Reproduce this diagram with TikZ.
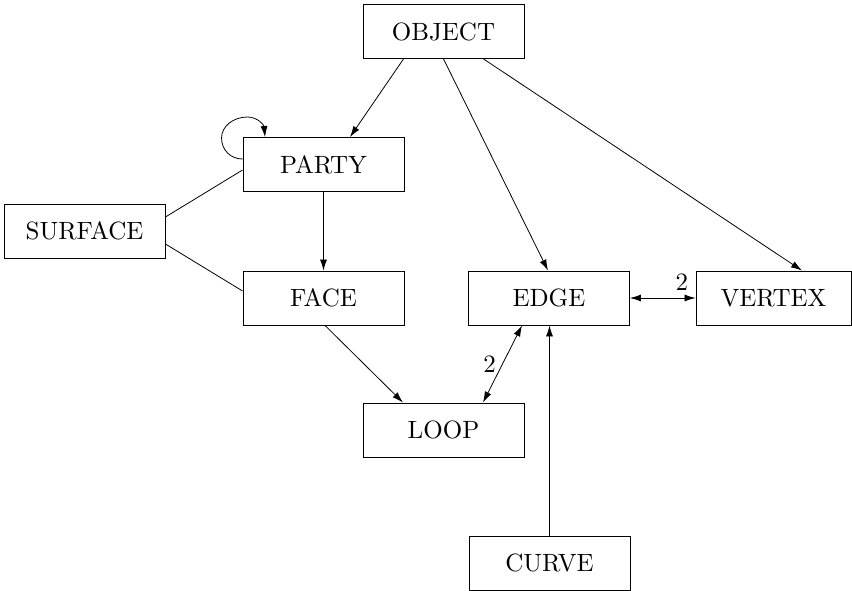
\documentclass[tikz,border=0pt]{standalone}
\usepackage{graphicx}
\usetikzlibrary{arrows.meta}
\newcommand{\lbl}[1]{\scalebox{2.5}{#1}}
\begin{document}
\begin{tikzpicture}[x=1pt,y=1pt,
  box/.style={draw, minimum width=161pt, minimum height=54pt, inner sep=0pt, line width=0.9pt},
  conn/.style={line width=0.8pt},
  arr/.style={conn, -{Latex[length=11pt,width=7pt]}},
  darr/.style={conn, {Latex[length=11pt,width=7pt]}-{Latex[length=11pt,width=7pt]}}]
\useasboundingbox (0,0) rectangle (852,-591);
\node[box] (object)  at (443.5,-31.5) {\lbl{OBJECT}};
\node[box] (party)   at (323.5,-164.5) {\lbl{PARTY}};
\node[box] (surface) at (84.5,-231) {\lbl{SURFACE}};
\node[box] (face)    at (323.5,-298) {\lbl{FACE}};
\node[box] (edge)    at (549,-298) {\lbl{EDGE}};
\node[box, minimum width=155pt] (vertex) at (773.5,-298) {\lbl{VERTEX}};
\node[box] (loop)    at (443.5,-430) {\lbl{LOOP}};
\node[box] (curve)   at (549.5,-563) {\lbl{CURVE}};

\draw[arr] ([xshift=-40pt]object.south) -- ([xshift=26.5pt]party.north);
\draw[arr] (object.south) -- ([xshift=-1pt]edge.north);
\draw[arr] ([xshift=40pt]object.south) -- ([xshift=28.5pt]vertex.north);
\draw[arr] (party.south) -- (face.north);
\draw[arr] ([xshift=1.5pt]face.south) -- ([xshift=-40.5pt]loop.north);
\draw[darr] ([xshift=-27pt]edge.south) -- ([xshift=39.5pt]loop.north)
  node[midway, left=3pt] {\lbl{2}};
\draw[darr] (edge.east) -- (vertex.west)
  node[pos=0.79, above=4pt] {\lbl{2}};
\draw[arr] (curve.north) -- (edge.south -| curve.north);
\draw[conn] ([yshift=14pt]surface.east) -- ([yshift=-5.5pt]party.west);
\draw[conn] ([yshift=-13pt]surface.east) -- ([yshift=7pt]face.west);
\draw[arr] ([yshift=5.5pt]party.west)
  .. controls +(-12,0) and +(0,-12) .. ++(-21,21)
  .. controls +(0,12) and +(-14,0) .. ++(26,21)
  .. controls +(10,0) and +(-1,12) .. ([xshift=-58.5pt]party.north);
\end{tikzpicture}
\end{document}
